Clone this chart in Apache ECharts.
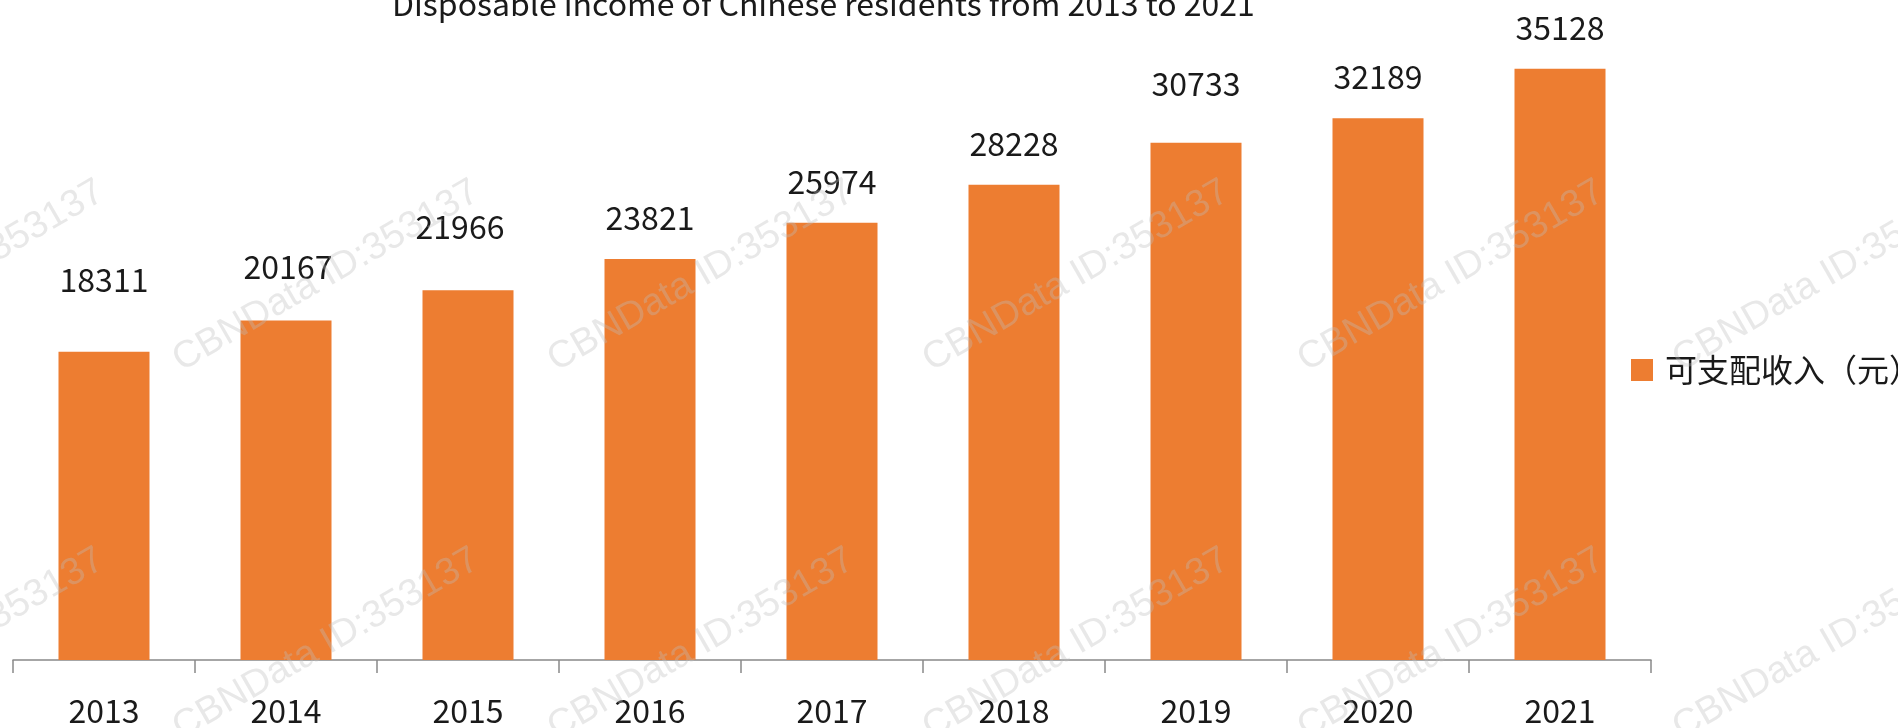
<!DOCTYPE html>
<html>
<head>
<meta charset="utf-8">
<script src="https://cdn.jsdelivr.net/npm/echarts@6/dist/echarts.min.js"></script>
<style>
html,body{margin:0;padding:0;background:#fff;}
#chart{width:1898px;height:728px;}
</style>
</head>
<body>
<div id="chart"></div>
<script>
const titleText = 'Disposable income of Chinese residents from 2013 to 2021';
const seriesName = '可支配收入（元）';
const categories = ['2013','2014','2015','2016','2017','2018','2019','2020','2021'];
const incomeValues = [18311, 20167, 21966, 23821, 25974, 28228, 30733, 32189, 35128];
const watermarkText = 'CBNData ID:353137';

// label placement tweaks (layout only): extra lift and horizontal shift per label
const labelLift = [31, 13, 22, 0, 0, 0, 18, 0, 0];
const labelShiftX = [0, 2, -8, 0, 0, 0, 0, 0, 0];

const FONT = '"Noto Sans CJK SC", "Noto Sans", sans-serif';
const BASE_DIST = 25;

const barData = incomeValues.map((v, i) => ({
  value: v,
  label: { distance: BASE_DIST + labelLift[i], offset: [labelShiftX[i], 0] }
}));

const watermarks = [];
for (let i = -1; i <= 4; i++) {
  for (let j = -1; j <= 1; j++) {
    watermarks.push({
      type: 'text',
      x: 326 + 375 * i,
      y: 276 + 368 * j,
      rotation: Math.PI / 6,
      z: 100,
      silent: true,
      style: {
        text: watermarkText,
        font: '38px "Liberation Sans", Arial, sans-serif',
        fill: 'rgba(190,190,190,0.35)',
        align: 'center',
        verticalAlign: 'middle'
      }
    });
  }
}

const chart = echarts.init(document.getElementById('chart'));
chart.setOption({
  animation: false,
  backgroundColor: '#ffffff',
  title: {
    text: titleText,
    left: 392,
    top: -12,
    padding: 0,
    textStyle: { fontFamily: FONT, fontSize: 32, fontWeight: 'normal', color: '#1a1a1a' }
  },
  legend: {
    data: [seriesName],
    left: 1631,
    top: 354,
    orient: 'vertical',
    icon: 'rect',
    itemWidth: 22,
    itemHeight: 22,
    padding: 0,
    textStyle: { fontFamily: FONT, fontSize: 32, color: '#1a1a1a', padding: [0, 0, 0, 7] }
  },
  grid: { left: 13, right: 247, top: 54, bottom: 68, containLabel: false },
  xAxis: {
    type: 'category',
    data: categories,
    axisLine: { lineStyle: { color: '#898989', width: 1.5 } },
    axisTick: { show: true, length: 13, lineStyle: { color: '#898989', width: 1.5 } },
    axisLabel: { margin: 35, fontFamily: FONT, fontSize: 32, color: '#1a1a1a' }
  },
  yAxis: {
    type: 'value',
    min: 0,
    max: 36000,
    show: false,
    splitLine: { show: false }
  },
  series: [{
    name: seriesName,
    type: 'bar',
    data: barData,
    barWidth: '50%',
    itemStyle: { color: '#ED7D31' },
    label: {
      show: true,
      position: 'top',
      distance: BASE_DIST,
      fontFamily: FONT,
      fontSize: 32,
      color: '#1a1a1a'
    }
  }],
  graphic: watermarks
});
</script>
</body>
</html>
